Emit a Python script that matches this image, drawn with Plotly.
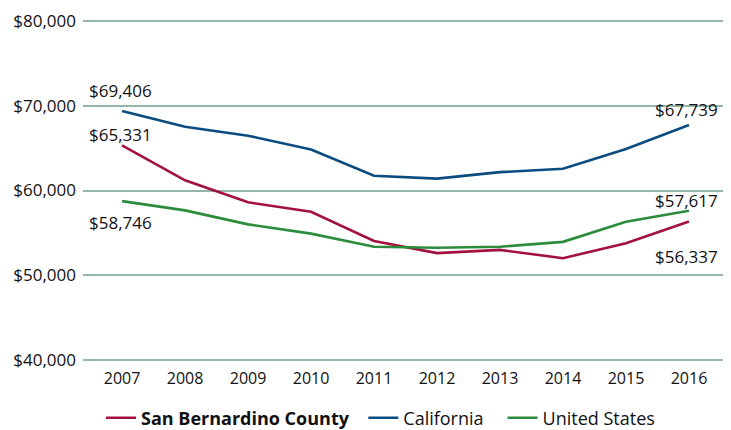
import plotly.graph_objects as go

years = [2007, 2008, 2009, 2010, 2011, 2012, 2013, 2014, 2015, 2016]
san_bernardino = [65331, 61200, 58600, 57480, 54040, 52600, 52980, 52000, 53770, 56337]
california = [69406, 67535, 66480, 64840, 61750, 61400, 62170, 62570, 64900, 67739]
united_states = [58746, 57650, 56000, 54900, 53350, 53230, 53350, 53930, 56300, 57617]
y_ticks = [40000, 50000, 60000, 70000, 80000]

RED = "#a3123f"
BLUE = "#0b4c80"
GREEN = "#2b8d3b"
FONT = "Open Sans"
TXT = "#111111"

# page body has an 8px default margin, so the figure is sized to fit the window
W, H = 723, 422

fig = go.Figure()
fig.add_trace(go.Scatter(x=years, y=san_bernardino, mode="lines",
                         name="<b>San Bernardino County</b>&nbsp;&nbsp;",
                         line=dict(color=RED, width=2.6)))
fig.add_trace(go.Scatter(x=years, y=california, mode="lines", name="California&nbsp;&nbsp;&nbsp;",
                         line=dict(color=BLUE, width=2.6)))
fig.add_trace(go.Scatter(x=years, y=united_states, mode="lines", name="United States",
                         line=dict(color=GREEN, width=2.6)))

def money(v):
    return "${:,}".format(v)

labels = [
    (years[0], california[0], 20),
    (years[0], san_bernardino[0], 11),
    (years[0], united_states[0], -21),
    (years[-1], california[-1], 16),
    (years[-1], united_states[-1], 10),
    (years[-1], san_bernardino[-1], -35),
]
for x, y, ys in labels:
    fig.add_annotation(x=x, y=y, xref="x", yref="y", text=money(y), showarrow=False,
                       xanchor="center", yanchor="middle", yshift=ys, xshift=-2,
                       font=dict(family=FONT, size=17, color=TXT))

fig.update_layout(
    width=W, height=H,
    margin=dict(l=75, r=8, t=12, b=69, autoexpand=False),
    paper_bgcolor="white", plot_bgcolor="white",
    font=dict(family=FONT, size=16, color=TXT),
    showlegend=True,
    legend=dict(orientation="h", x=93 / W, xref="container", xanchor="left",
                y=12 / H, yref="container", yanchor="middle",
                font=dict(family=FONT, size=18, color=TXT), itemwidth=30,
                traceorder="normal"),
    xaxis=dict(range=[2006.38, 2016.54], tickvals=years, ticktext=[str(y) for y in years],
               showgrid=False, zeroline=False, showline=False, ticks="", ticklabelstandoff=6,
               automargin=False, tickfont=dict(family=FONT, size=16, color=TXT)),
    yaxis=dict(range=[39850, 80150], tickvals=y_ticks,
               ticktext=[money(v) for v in y_ticks],
               showgrid=True, gridcolor="#93b8aa", gridwidth=1.5, zeroline=False, showline=False,
               ticks="", ticklabelstandoff=6, automargin=False,
               tickfont=dict(family=FONT, size=17, color=TXT)),
)

fig.write_html("out.html")
